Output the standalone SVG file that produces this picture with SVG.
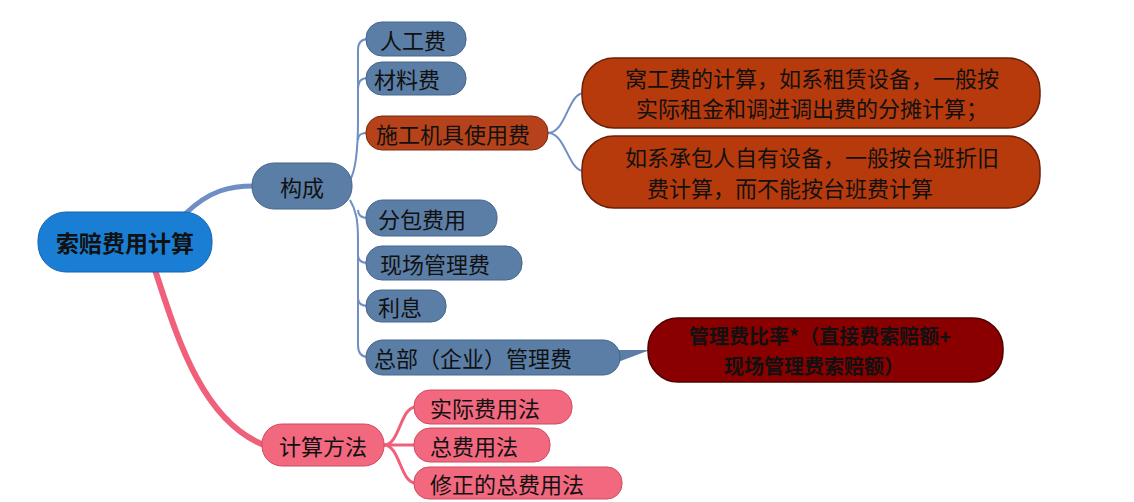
<svg xmlns="http://www.w3.org/2000/svg" width="1134" height="502" viewBox="0 0 1134 502">
<style>
text{font-family:"Noto Sans CJK SC","Noto Sans",sans-serif;font-size:22px;fill:#111;dominant-baseline:central;}
.b{fill:#5b7ea6;stroke:#46648a;stroke-width:1}
.o{fill:#b5421a;stroke:#7a2a10;stroke-width:1}
.rb{fill:#b73a0c;stroke:#6a2008;stroke-width:1.5}
.dr{fill:#8a0000;stroke:#500000;stroke-width:1.5}
.p{fill:#f2687f;stroke:#d04a60;stroke-width:1}
.cb{fill:none;stroke:#6f8fc4;stroke-width:2}
.cp{fill:none;stroke:#f0607a;stroke-width:3}
</style>
<rect width="1134" height="502" fill="#fff"/>
<g id="connectors">
<path class="cb" d="M185,214 C210,190 230,186 254,186" style="stroke-width:5"/>
<path class="cb" d="M350,180 C356,170 358,150 358,120 L358,50 C358,42 362,39 368,39"/>
<path class="cb" d="M358,90 C358,80 362,78 368,78"/>
<path class="cb" d="M358,140 C358,134 362,133 368,133"/>
<path class="cb" d="M350,200 C356,210 358,220 358,240 L358,345 C358,354 362,357 368,357"/>
<path class="cb" d="M358,210 C358,216 362,218 368,218"/>
<path class="cb" d="M358,255 C358,261 362,263 368,263"/>
<path class="cb" d="M358,298 C358,304 362,306 368,306"/>
<path class="cb" d="M548,133 C566,133 568,93 584,93"/>
<path class="cb" d="M548,133 C566,133 568,171 584,171"/>
<path d="M618,350 L650,350 L618,362 Z" fill="#5b7ea6"/>
<path class="cp" d="M155,270 C175,330 200,420 264,445" style="stroke-width:6"/>
<path class="cp" d="M384,445 C400,445 400,407 416,407"/>
<path class="cp" d="M384,445 L416,445"/>
<path class="cp" d="M384,445 C400,445 400,483 416,483"/>
</g>
<g id="root"><rect x="38" y="212" width="174" height="60" rx="28" fill="#1a7fd4" stroke="#1565b0"/><text x="125" y="242" text-anchor="middle" style="font-weight:bold;font-size:23px">索赔费用计算</text></g>
<g id="goucheng"><rect class="b" x="252" y="163" width="100" height="46" rx="22"/><text x="302" y="186" text-anchor="middle">构成</text></g>
<g id="n1"><rect class="b" x="366" y="22" width="100" height="34" rx="16"/><text x="380" y="39">人工费</text></g>
<g id="n2"><rect class="b" x="366" y="62" width="100" height="33" rx="16"/><text x="374" y="78">材料费</text></g>
<g id="n3"><rect class="o" x="366" y="116" width="182" height="34" rx="16"/><text x="376" y="133">施工机具使用费</text></g>
<g id="n4"><rect class="b" x="366" y="200" width="131" height="36" rx="17"/><text x="378" y="218">分包费用</text></g>
<g id="n5"><rect class="b" x="366" y="246" width="156" height="34" rx="16"/><text x="380" y="263">现场管理费</text></g>
<g id="n6"><rect class="b" x="366" y="290" width="80" height="32" rx="15"/><text x="378" y="306">利息</text></g>
<g id="n7"><rect class="b" x="366" y="340" width="254" height="35" rx="17"/><text x="374" y="357">总部（企业）管理费</text></g>
<g id="r1"><rect class="rb" x="582" y="58" width="458" height="70" rx="32"/><text x="812" y="77" text-anchor="middle">窝工费的计算，如系租赁设备，一般按</text><text x="812" y="107" text-anchor="middle">实际租金和调进调出费的分摊计算；</text></g>
<g id="r2"><rect class="rb" x="582" y="136" width="458" height="72" rx="32"/><text x="812" y="156" text-anchor="middle">如系承包人自有设备，一般按台班折旧</text><text x="790" y="187" text-anchor="middle">费计算，而不能按台班费计算</text></g>
<g id="r3"><rect class="dr" x="648" y="318" width="355" height="64" rx="30"/><text x="820" y="335" text-anchor="middle" style="font-size:20px;font-weight:bold">管理费比率*（直接费索赔额+</text><text x="814" y="365" text-anchor="middle" style="font-size:20px;font-weight:bold">现场管理费索赔额）</text></g>
<g id="fangfa"><rect class="p" x="262" y="424" width="122" height="42" rx="20"/><text x="323" y="445" text-anchor="middle">计算方法</text></g>
<g id="m1"><rect class="p" x="414" y="390" width="158" height="34" rx="16"/><text x="430" y="407">实际费用法</text></g>
<g id="m2"><rect class="p" x="414" y="428" width="136" height="34" rx="16"/><text x="430" y="445">总费用法</text></g>
<g id="m3"><rect class="p" x="414" y="467" width="208" height="32" rx="15"/><text x="430" y="483">修正的总费用法</text></g>
</svg>
